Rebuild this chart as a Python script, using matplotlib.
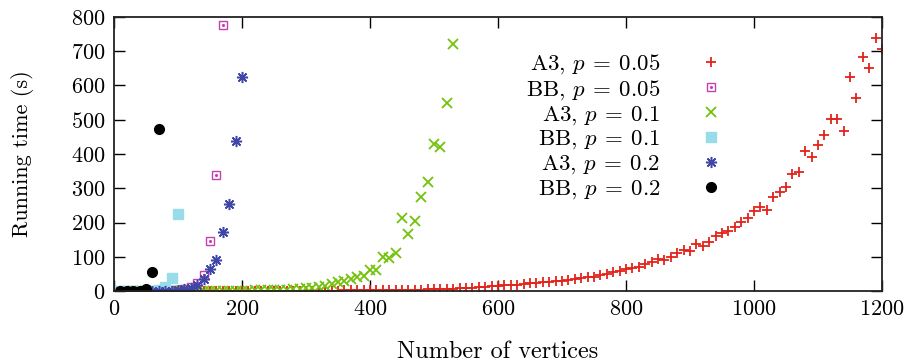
import matplotlib
matplotlib.use("Agg")
import matplotlib.pyplot as plt

plt.rcParams['font.family'] = 'serif'
plt.rcParams['font.serif'] = ['cmr10']
plt.rcParams['mathtext.fontset'] = 'cm'
plt.rcParams['axes.formatter.use_mathtext'] = True

# running times (s) per graph size, one series per algorithm / edge probability
a3_005_n = list(range(10, 1201, 10))
a3_005_t = [0] * 25 + [1] * 10 + [2] * 7 + [3] * 5 + [
    4, 5, 5, 6, 6, 7, 8, 9, 10, 11, 13, 14, 16, 17, 18, 19, 21, 22, 23, 25,
    27, 29, 30, 32, 34, 37, 40, 42, 46, 50, 55, 59, 63, 66, 71, 78, 86, 93,
    90, 98, 111, 121, 116, 137, 131, 142, 161, 168, 176, 188, 202, 214, 234,
    244, 236, 275, 288, 304, 342, 348, 410, 392, 425, 455, 501, 502, 467,
    625, 563, 684, 650, 739, 708]

bb_005_n = list(range(10, 171, 10))
bb_005_t = [0, 0, 0, 0, 0, 0, 0, 1, 2, 4, 7, 13, 24, 47, 147, 339, 778]

a3_01_n = list(range(10, 531, 10))
a3_01_t = [0] * 17 + [1, 1, 1, 1, 2, 2, 2, 3, 3, 4, 5, 6, 8, 10, 11, 14,
                      20, 25, 30, 35, 42, 45, 60, 61, 98, 96, 112, 212, 167,
                      204, 275, 319, 430, 420, 550, 720]

bb_01_n = list(range(10, 101, 10))
bb_01_t = [0, 0, 0, 0, 0, 1, 2, 11, 38, 224]

a3_02_n = list(range(10, 201, 10))
a3_02_t = [0, 0, 0, 0, 0, 0, 0, 1, 1, 3, 5, 9, 17, 34, 65, 91, 172, 254,
           439, 626]

bb_02_n = [10, 20, 30, 40, 50, 60, 70]
bb_02_t = [0, 0, 0, 0, 5, 55, 474]

fig = plt.figure(figsize=(9.17, 3.63), dpi=100)
ax = fig.add_axes([0.1243, 0.1983, 0.8375, 0.7549])

red = '#e2231a'
pink = '#c63fae'
green = '#72c30a'
cyan = '#97dce8'
blue = '#3f46a8'

h1, = ax.plot(a3_005_n, a3_005_t, ls='none', marker='+', ms=7, mew=1.3,
              color=red)
sq, = ax.plot(bb_005_n, bb_005_t, ls='none', marker='s', ms=6, mew=1.0,
              mfc='none', mec=pink)
dot, = ax.plot(bb_005_n, bb_005_t, ls='none', marker='.', ms=2.5,
               color=pink)
h3, = ax.plot(a3_01_n, a3_01_t, ls='none', marker='x', ms=6.5, mew=1.3,
              color=green)
h4, = ax.plot(bb_01_n, bb_01_t, ls='none', marker='s', ms=7, color=cyan)
h5, = ax.plot(a3_02_n, a3_02_t, ls='none', marker=(8, 2, 0), ms=8, mew=1.1,
              color=blue)
h6, = ax.plot(bb_02_n, bb_02_t, ls='none', marker='o', ms=7, color='black')

labels = [r'A3, $p\:=\:0.05$', r'BB, $p\:=\:0.05$', r'A3, $p\:=\:0.1$',
          r'BB, $p\:=\:0.1$', r'A3, $p\:=\:0.2$', r'BB, $p\:=\:0.2$']
ax.legend([h1, (sq, dot), h3, h4, h5, h6], labels, loc='upper right',
          bbox_to_anchor=(0.804, 0.905), frameon=False, markerfirst=False,
          numpoints=1, fontsize=16.5, handlelength=1.0, handletextpad=1.7,
          labelspacing=0.09, borderaxespad=0)

ax.set_xlim(0, 1200)
ax.set_ylim(0, 800)
ax.set_xticks(range(0, 1201, 200))
ax.set_yticks(range(0, 801, 100))
ax.tick_params(direction='in', length=8, width=1.0, top=True, right=True,
               labelsize=16, pad=6)
for s in ax.spines.values():
    s.set_linewidth(1.3)
    s.set_color('#222222')

ax.set_xlabel('Number of vertices', fontsize=17.5, labelpad=16)
ax.set_ylabel('Running time (s)', fontsize=16, labelpad=27)

fig.savefig('out.png', dpi=100)
